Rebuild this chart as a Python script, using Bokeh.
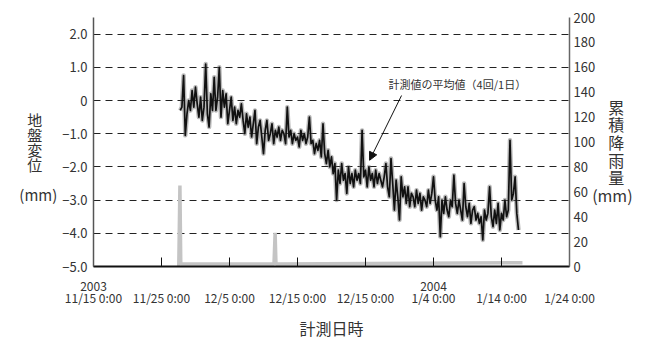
import pandas as pd
from bokeh.plotting import figure
from bokeh.models import (Range1d, LinearAxis, FixedTicker, Label, Arrow,
                          NormalHead, ColumnDataSource)
from bokeh.embed import file_html
from bokeh.resources import INLINE

FONT = "Noto Sans CJK JP"
TXT = "#333333"

# ---------------- data ----------------
x_origin = "2003-11-15 00:00"
x_tick_days = [0, 10, 20, 30, 40, 50, 60, 70]
x_tick_labels = ["11/15 0:00", "11/25 0:00", "12/5 0:00", "12/15 0:00",
                 "12/15 0:00", "1/4 0:00", "1/14 0:00", "1/24 0:00"]
x_year_labels = ["2003", "", "", "", "", "2004", "", ""]

left_ticks = [-5, -4, -3, -2, -1, 0, 1, 2]
left_tick_labels = ["−5.0", "−4.0", "−3.0", "−2.0", "−1.0", "0", "1.0", "2.0"]
grid_levels = [-4, -3, -2, -1, 0, 1, 2, 2.5]
right_ticks = [0, 20, 40, 60, 80, 100, 120, 140, 160, 180, 200]

left_title = ["地", "盤", "変", "位"]
right_title = ["累", "積", "降", "雨", "量"]
unit = "(mm)"
x_title = "計測日時"
note = "計測値の平均値（4回/1日）"

# ground displacement (mm), 4 readings per day starting 2003-11-27 18:00
disp_start = "2003-11-27 18:00"
disp_mm = [
    -0.3,
    -0.2, 0.75, -1.05, -0.4,
    0.0, -0.3, 0.3, -0.2,
    0.4, -0.1, -0.5, 0.1,
    -0.6, -0.2, 1.1, -0.4,
    -0.8, 0.2, -0.3, 0.7,
    -0.3, 0.1, 1.0, -0.5,
    0.3, -0.2, 0.2, -0.7,
    -0.3, 0.1, -0.6, -0.2,
    -0.7, -0.3, -0.5, -0.1,
    -0.6, -1.0, -0.4, -0.8,
    -0.5, -1.1, -0.7, -0.3,
    -1.3, -0.8, -0.6, -1.1,
    -1.6, -0.9, -0.6, -1.2,
    -1.0, -0.7, -1.3, -0.9,
    -1.1, -0.8, -1.2, -0.9,
    -1.0, -1.3, -0.2, -1.1,
    -0.9, -1.3, -1.0, -1.2,
    -1.1, -1.4, -0.9, -1.2,
    -1.0, -1.3, -1.1, -0.5,
    -1.3, -1.2, -1.6, -1.3,
    -1.5, -1.2, -1.7, -0.7,
    -1.6, -1.9, -1.5, -2.0,
    -1.7, -2.2, -1.9, -3.0,
    -2.1, -2.5, -1.9, -2.4,
    -2.2, -2.8, -2.0, -2.5,
    -2.2, -2.6, -2.1, -2.4,
    -2.2, -2.5, -0.9, -2.3,
    -2.1, -2.6, -2.0, -2.4,
    -2.2, -2.6, -2.1, -2.5,
    -2.2, -2.4, -2.6, -2.3,
    -1.9, -2.6, -2.9, -1.75,
    -2.5, -3.3, -2.4, -2.9,
    -3.6, -2.3, -2.9, -2.6,
    -3.1, -2.6, -3.2, -2.8,
    -2.9, -3.2, -2.7, -3.1,
    -2.8, -3.3, -2.9, -3.0,
    -3.2, -2.7, -3.1, -2.8,
    -2.3, -3.0, -3.3, -2.9,
    -4.1, -3.0, -3.4, -2.9,
    -3.3, -3.5, -3.0, -3.2,
    -2.25, -3.1, -3.4, -3.0,
    -3.3, -3.6, -2.5, -3.2,
    -3.5, -3.1, -3.7, -3.3,
    -3.2, -3.6, -3.4, -3.7,
    -3.5, -4.2, -3.3, -3.6,
    -3.4, -2.6, -3.5, -3.8,
    -3.3, -3.7, -3.1, -3.9,
    -3.4, -3.6, -3.0, -3.5,
    -3.3, -1.2, -3.0, -2.8,
    -2.3, -3.4, -3.9,
]

# rainfall (mm)
rain_time = ["2003-11-27 07:00", "2003-11-27 13:00", "2003-11-27 17:00",
             "2003-11-27 20:00", "2003-11-28 00:00", "2003-12-11 13:00",
             "2003-12-11 17:00", "2003-12-11 20:00", "2004-01-17 02:00"]
rain_mm = [1, 1, 65, 2, 2, 2, 27, 2, 3]

# ---------------- derived ----------------
origin = pd.Timestamp(x_origin)
day = pd.Timedelta(days=1)
disp_t = pd.date_range(disp_start, periods=len(disp_mm), freq="6h")
disp_x = [(t - origin) / day for t in disp_t]
rain_x = [(pd.Timestamp(t) - origin) / day for t in rain_time]

SP = "\u3000"
W, H = 652, 342
p = figure(width=W, height=H, output_backend="svg", toolbar_location=None,
           x_range=Range1d(0, 70), y_range=Range1d(-5, 2.5),
           min_border_left=93, min_border_right=83, min_border_top=17,
           min_border_bottom=76)
p.outline_line_color = None
p.background_fill_color = "white"
p.border_fill_color = "white"
p.xgrid.visible = False
p.extra_y_ranges = {"rain": Range1d(0, 200)}

# grid
p.ygrid.ticker = FixedTicker(ticks=grid_levels)
p.ygrid.grid_line_color = "#222222"
p.ygrid.grid_line_dash = "7 5"
p.ygrid.grid_line_width = 1

# x axis
xa = p.xaxis[0]
xa.ticker = FixedTicker(ticks=x_tick_days)
xa.major_label_overrides = {d: y + "\n" + s for d, y, s in
                            zip(x_tick_days, x_year_labels, x_tick_labels)}
xa.major_tick_in = 9
xa.major_tick_out = 0
xa.minor_tick_line_color = None
xa.axis_line_color = "#111111"
xa.axis_line_width = 2
xa.major_tick_line_color = "#111111"
xa.major_label_standoff = 10
xa.major_label_text_font = FONT
xa.major_label_text_font_size = "12px"
xa.major_label_text_line_height = 0.72
xa.major_label_text_color = TXT
xa.axis_label = x_title
xa.axis_label_text_font = FONT
xa.axis_label_text_font_size = "16px"
xa.axis_label_text_font_style = "normal"
xa.axis_label_text_color = TXT
xa.axis_label_standoff = 7

# left axis
ya = p.yaxis[0]
ya.ticker = FixedTicker(ticks=left_ticks)
ya.major_label_overrides = {v: s for v, s in zip(left_ticks, left_tick_labels)}
ya.major_tick_in = 0
ya.major_tick_out = 0
ya.minor_tick_line_color = None
ya.axis_line_color = "#555555"
ya.axis_line_width = 1.5
ya.major_label_standoff = 6
ya.major_label_text_font = FONT
ya.major_label_text_font_size = "13px"
ya.major_label_text_color = TXT
ya.axis_label = "\n".join([SP, SP] + [c + SP for c in left_title] + [SP, unit])
ya.axis_label_orientation = "horizontal"
ya.axis_label_text_font = FONT
ya.axis_label_text_font_size = "15px"
ya.axis_label_text_font_style = "normal"
ya.axis_label_text_line_height = 0.72
ya.axis_label_text_color = TXT
ya.axis_label_standoff = 2

# right axis
ra = LinearAxis(y_range_name="rain", ticker=FixedTicker(ticks=right_ticks))
ra.major_tick_in = 0
ra.major_tick_out = 0
ra.minor_tick_line_color = None
ra.axis_line_color = "#666666"
ra.axis_line_width = 1.5
ra.major_label_standoff = 4
ra.major_label_text_font = FONT
ra.major_label_text_font_size = "13px"
ra.major_label_text_color = TXT
ra.axis_label = "\n".join([SP, SP] + [SP + c for c in right_title] + [unit, SP])
ra.axis_label_orientation = "horizontal"
ra.axis_label_text_font = FONT
ra.axis_label_text_font_size = "16px"
ra.axis_label_text_font_style = "normal"
ra.axis_label_text_line_height = 0.735
ra.axis_label_text_color = TXT
ra.axis_label_standoff = -6
p.add_layout(ra, "right")

# series
p.line(rain_x, rain_mm, y_range_name="rain", line_color="#c4c4c4",
       line_width=3.5)
src = ColumnDataSource(dict(x=disp_x, y=disp_mm))
p.line("x", "y", source=src, line_color="#666666", line_width=4.5,
       line_alpha=0.45, line_join="round")
p.line("x", "y", source=src, line_color="#111111", line_width=1.7,
       line_join="round")

# annotation
p.add_layout(Label(x=43.4, y=0.51, text=note, text_font=FONT,
                   text_font_size="11px", text_color=TXT,
                   text_baseline="middle", text_align="left"))
p.add_layout(Arrow(x_start=45.3, y_start=0.15, x_end=40.6, y_end=-1.8,
                   line_color="#111111", line_width=1,
                   end=NormalHead(size=8, fill_color="#111111",
                                  line_color="#111111")))

open("out.html", "w").write(file_html(p, INLINE))
